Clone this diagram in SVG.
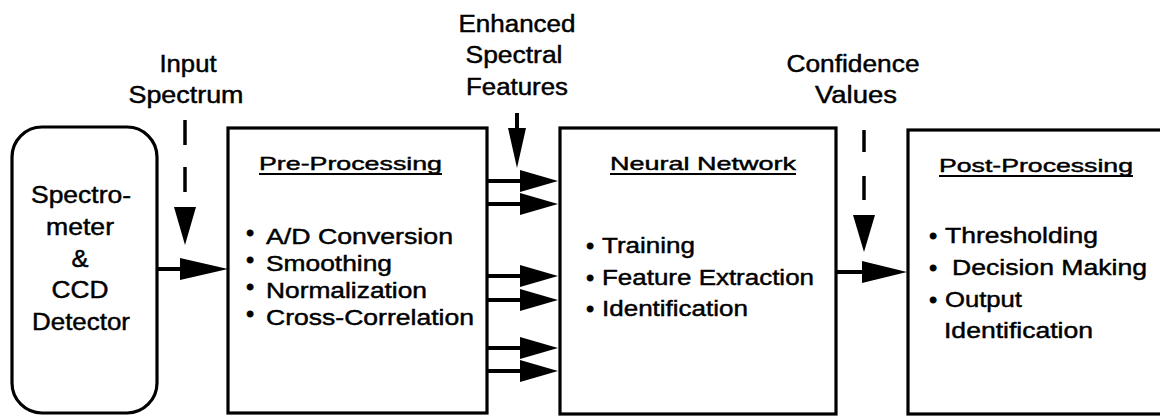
<svg xmlns="http://www.w3.org/2000/svg" width="1160" height="418" viewBox="0 0 1160 418">
<style>
  .box { fill: #fff; stroke: #000; stroke-width: 3.2; }
  .t { font-family: "Liberation Sans", Arial, Helvetica, sans-serif; fill: #000; stroke: #000; stroke-width: 0.45; }
  .lbl { font-size: 23px; text-anchor: middle; }
  .dev { font-size: 23px; text-anchor: middle; }
  .ttl { font-size: 19px; }
  .itm { font-size: 22px; }
  .bul { font-size: 22px; text-anchor: middle; stroke-width: 0.9; }
  .ul { stroke: #000; stroke-width: 2; }
  .ln { stroke: #000; stroke-width: 4; fill: none; }
  .dash { stroke: #000; stroke-width: 3.5; fill: none; }
  .head { fill: #000; stroke: none; }
</style>
<rect width="1160" height="418" fill="#fff"/>

<g id="spectrometer">
  <rect class="box" x="12" y="127" width="145" height="286" rx="30" ry="30"/>
  <text class="t dev" x="81" y="203" textLength="100" lengthAdjust="spacingAndGlyphs">Spectro-</text>
  <text class="t dev" x="80" y="235" textLength="68" lengthAdjust="spacingAndGlyphs">meter</text>
  <text class="t dev" x="80" y="267" textLength="17" lengthAdjust="spacingAndGlyphs">&amp;</text>
  <text class="t dev" x="80" y="298" textLength="57" lengthAdjust="spacingAndGlyphs">CCD</text>
  <text class="t dev" x="81" y="330" textLength="98" lengthAdjust="spacingAndGlyphs">Detector</text>
</g>

<g id="preprocessing">
  <rect class="box" x="228" y="128" width="259" height="285"/>
  <text class="t ttl" x="259" y="170" textLength="183" lengthAdjust="spacingAndGlyphs">Pre-Processing</text>
  <line class="ul" x1="259" y1="174" x2="442" y2="174"/>
  <text class="t bul" x="250" y="240">•</text>
  <text class="t itm" x="266" y="244" textLength="187" lengthAdjust="spacingAndGlyphs">A/D Conversion</text>
  <text class="t bul" x="250" y="267">•</text>
  <text class="t itm" x="266" y="271" textLength="126" lengthAdjust="spacingAndGlyphs">Smoothing</text>
  <text class="t bul" x="250" y="294">•</text>
  <text class="t itm" x="266" y="298" textLength="161" lengthAdjust="spacingAndGlyphs">Normalization</text>
  <text class="t bul" x="250" y="321">•</text>
  <text class="t itm" x="266" y="325" textLength="208" lengthAdjust="spacingAndGlyphs">Cross-Correlation</text>
</g>

<g id="neuralnetwork">
  <rect class="box" x="560" y="128" width="276" height="286"/>
  <text class="t ttl" x="610" y="170" textLength="186" lengthAdjust="spacingAndGlyphs">Neural Network</text>
  <line class="ul" x1="610" y1="174" x2="796" y2="174"/>
  <text class="t bul" x="590" y="253">•</text>
  <text class="t itm" x="602" y="253" textLength="93" lengthAdjust="spacingAndGlyphs">Training</text>
  <text class="t bul" x="590" y="285">•</text>
  <text class="t itm" x="602" y="285" textLength="212" lengthAdjust="spacingAndGlyphs">Feature Extraction</text>
  <text class="t bul" x="590" y="316">•</text>
  <text class="t itm" x="602" y="316" textLength="146" lengthAdjust="spacingAndGlyphs">Identification</text>
</g>

<g id="postprocessing">
  <rect class="box" x="908" y="130" width="270" height="284"/>
  <text class="t ttl" x="939" y="172" textLength="194" lengthAdjust="spacingAndGlyphs">Post-Processing</text>
  <line class="ul" x1="939" y1="176" x2="1133" y2="176"/>
  <text class="t bul" x="933" y="243">•</text>
  <text class="t itm" x="945" y="243" textLength="153" lengthAdjust="spacingAndGlyphs">Thresholding</text>
  <text class="t bul" x="933" y="275">•</text>
  <text class="t itm" x="952" y="275" textLength="195" lengthAdjust="spacingAndGlyphs">Decision Making</text>
  <text class="t bul" x="933" y="307">•</text>
  <text class="t itm" x="945" y="307" textLength="77" lengthAdjust="spacingAndGlyphs">Output</text>
  <text class="t itm" x="944" y="338" textLength="149" lengthAdjust="spacingAndGlyphs">Identification</text>
</g>

<g id="connectors">
  <!-- Spectrometer to Pre-Processing -->
  <line class="ln" x1="157" y1="269" x2="182" y2="269"/>
  <polygon class="head" points="180,258 228,269 180,280"/>
  <!-- Input Spectrum (dashed) -->
  <line class="dash" x1="185" y1="120" x2="185" y2="145"/>
  <line class="dash" x1="185" y1="167" x2="185" y2="192"/>
  <polygon class="head" points="174,207 196,207 185,245"/>
  <!-- Pre-Processing to Neural Network -->
  <line class="ln" x1="487" y1="181" x2="522" y2="181"/>
  <polygon class="head" points="520,170 558,181 520,192"/>
  <line class="ln" x1="487" y1="204" x2="522" y2="204"/>
  <polygon class="head" points="520,193 558,204 520,215"/>
  <line class="ln" x1="487" y1="276" x2="522" y2="276"/>
  <polygon class="head" points="520,265 558,276 520,287"/>
  <line class="ln" x1="487" y1="300" x2="522" y2="300"/>
  <polygon class="head" points="520,289 558,300 520,311"/>
  <line class="ln" x1="487" y1="348" x2="522" y2="348"/>
  <polygon class="head" points="520,337 558,348 520,359"/>
  <line class="ln" x1="487" y1="371" x2="522" y2="371"/>
  <polygon class="head" points="520,360 558,371 520,382"/>
  <!-- Enhanced Spectral Features -->
  <line class="ln" x1="517" y1="113" x2="517" y2="132"/>
  <polygon class="head" points="508,128 526,128 517,168"/>
  <!-- Neural Network to Post-Processing -->
  <line class="ln" x1="836" y1="272" x2="864" y2="272"/>
  <polygon class="head" points="862,261 907,272 862,283"/>
  <!-- Confidence Values (dashed) -->
  <line class="dash" x1="864" y1="130" x2="864" y2="152"/>
  <line class="dash" x1="864" y1="176" x2="864" y2="200"/>
  <polygon class="head" points="853,215 875,215 864,252"/>
</g>

<g id="labels">
  <text class="t lbl" x="188" y="72" textLength="57" lengthAdjust="spacingAndGlyphs">Input</text>
  <text class="t lbl" x="186" y="103" textLength="115" lengthAdjust="spacingAndGlyphs">Spectrum</text>
  <text class="t lbl" x="517" y="32" textLength="117" lengthAdjust="spacingAndGlyphs">Enhanced</text>
  <text class="t lbl" x="514" y="63" textLength="97" lengthAdjust="spacingAndGlyphs">Spectral</text>
  <text class="t lbl" x="517" y="95" textLength="102" lengthAdjust="spacingAndGlyphs">Features</text>
  <text class="t lbl" x="853" y="72" textLength="133" lengthAdjust="spacingAndGlyphs">Confidence</text>
  <text class="t lbl" x="856" y="103" textLength="82" lengthAdjust="spacingAndGlyphs">Values</text>
</g>
</svg>
